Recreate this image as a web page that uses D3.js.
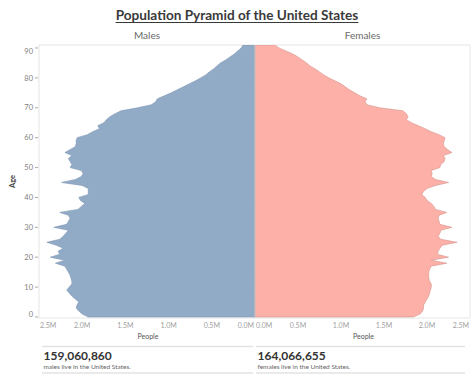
<!DOCTYPE html>
<html>
<head>
<meta charset="utf-8">
<script src="https://cdn.jsdelivr.net/npm/d3@7"></script>
<style>
  html, body { margin: 0; padding: 0; background: #fff; }
  svg text { font-family: Lato, "Open Sans", sans-serif; }
</style>
</head>
<body>
<svg id="chart" width="474" height="379"></svg>
<script>
// ---- data (values in millions of people, by single year of age) ----
const ages = d3.range(0, 92);
const males = [
  1.93, 2.00, 2.04, 2.07, 2.06, 2.04, 2.08, 2.12, 2.15, 2.18,
  2.15, 2.12, 2.12, 2.13, 2.14, 2.16, 2.18, 2.20, 2.31, 2.20,
  2.37, 2.26, 2.28, 2.22, 2.30, 2.41, 2.26, 2.22, 2.19, 2.16,
  2.33, 2.18, 2.16, 2.14, 2.16, 2.26, 2.05, 2.01, 1.97, 2.02,
  2.04, 1.93, 1.93, 1.93, 2.00, 2.24, 2.08, 2.01, 1.99, 2.01,
  2.14, 2.12, 2.14, 2.16, 2.12, 2.20, 2.14, 2.08, 2.07, 2.07,
  2.06, 1.94, 1.88, 1.80, 1.82, 1.75, 1.72, 1.68, 1.62, 1.55,
  1.36, 1.20, 1.15, 1.13, 1.05, 0.97, 0.90, 0.83, 0.76, 0.69,
  0.63, 0.57, 0.53, 0.48, 0.44, 0.40, 0.34, 0.29, 0.24, 0.20,
  0.16, 0.14
];
const females = [
  1.84, 1.92, 1.95, 1.96, 1.96, 1.98, 2.00, 2.02, 2.03, 2.04,
  2.05, 2.05, 2.03, 2.02, 2.02, 2.02, 2.03, 2.05, 2.23, 2.05,
  2.25, 2.12, 2.13, 2.15, 2.18, 2.35, 2.16, 2.13, 2.15, 2.16,
  2.29, 2.15, 2.14, 2.13, 2.14, 2.23, 2.10, 2.08, 2.05, 2.00,
  1.98, 1.94, 1.96, 2.00, 2.10, 2.25, 2.10, 2.05, 2.06, 2.05,
  2.15, 2.16, 2.20, 2.21, 2.19, 2.29, 2.24, 2.20, 2.19, 2.20,
  2.21, 2.14, 2.05, 1.98, 1.90, 1.82, 1.76, 1.78, 1.76, 1.72,
  1.45, 1.30, 1.28, 1.30, 1.22, 1.16, 1.10, 1.05, 1.00, 0.93,
  0.86, 0.80, 0.75, 0.70, 0.64, 0.60, 0.55, 0.50, 0.44, 0.36,
  0.28, 0.23
];
const xTicks = [0, 0.5, 1.0, 1.5, 2.0, 2.5];
const xTickLabels = ["0.0M", "0.5M", "1.0M", "1.5M", "2.0M", "2.5M"];
const yTicks = [0, 10, 20, 30, 40, 50, 60, 70, 80, 90];
const titleText = "Population Pyramid of the United States";
const panelTitles = ["Males", "Females"];
const totals = ["159,060,860", "164,066,655"];
const totalNotes = ["males live in the United States.", "females live in the United States."];

// ---- layout ----
const svg = d3.select("#chart");
const plotTop = 45, plotBottom = 318;
const leftX0 = 39, midX = 255, rightX1 = 470;

const y = d3.scaleLinear().domain([0, 91]).range([317, plotTop]);
const xL = d3.scaleLinear().domain([0, 2.5]).range([midX, leftX0]);
const xR = d3.scaleLinear().domain([0, 2.5]).range([midX, rightX1]);

// title
const title = svg.append("text")
  .attr("x", 237).attr("y", 20)
  .attr("text-anchor", "middle")
  .attr("font-size", 13.6).attr("font-weight", "bold")
  .attr("fill", "#3a3a3a")
  .text(titleText);
const tb = title.node().getBBox();
svg.append("line")
  .attr("x1", tb.x).attr("x2", tb.x + tb.width)
  .attr("y1", 22.5).attr("y2", 22.5)
  .attr("stroke", "#3a3a3a").attr("stroke-width", 1);

// panel titles
svg.append("text").attr("x", (leftX0 + midX) / 2).attr("y", 39)
  .attr("text-anchor", "middle").attr("font-size", 10).attr("fill", "#6a6a6a")
  .text(panelTitles[0]);
svg.append("text").attr("x", (midX + rightX1) / 2).attr("y", 39)
  .attr("text-anchor", "middle").attr("font-size", 10).attr("fill", "#6a6a6a")
  .text(panelTitles[1]);

// frame
svg.append("rect")
  .attr("x", leftX0).attr("y", plotTop)
  .attr("width", rightX1 - leftX0).attr("height", plotBottom - plotTop)
  .attr("fill", "none").attr("stroke", "#e6e6e6");

// clip
svg.append("clipPath").attr("id", "plotclip")
  .append("rect").attr("x", leftX0).attr("y", plotTop)
  .attr("width", rightX1 - leftX0).attr("height", plotBottom - plotTop);

const data = ages.map((a, i) => ({ age: a, m: males[i], f: females[i] }));

const areaM = d3.area()
  .y(d => y(d.age))
  .x0(xL(0))
  .x1(d => xL(d.m));
const areaF = d3.area()
  .y(d => y(d.age))
  .x0(xR(0))
  .x1(d => xR(d.f));

const g = svg.append("g").attr("clip-path", "url(#plotclip)");
g.append("path").datum(data).attr("d", areaM)
  .attr("fill", "#91abc7").attr("stroke", "#7f97b3").attr("stroke-width", 0.6);
g.append("path").datum(data).attr("d", areaF)
  .attr("fill", "#fdb0a8").attr("stroke", "#d4948d").attr("stroke-width", 0.6);
g.append("line").attr("x1", midX).attr("x2", midX).attr("y1", plotTop).attr("y2", plotBottom)
  .attr("stroke", "#c9c9c9").attr("stroke-width", 1);

// y axis
const yAxis = svg.append("g");
yTicks.forEach(t => {
  let yy = y(t);
  let ly = yy;
  if (t === 0) ly = yy - 3;
  if (t === 90) ly = yy + 3;
  yAxis.append("line").attr("x1", leftX0 - 4).attr("x2", leftX0 - 1)
    .attr("y1", yy).attr("y2", yy).attr("stroke", "#aaa");
  yAxis.append("text").attr("x", leftX0 - 6).attr("y", ly).attr("dy", "0.35em")
    .attr("text-anchor", "end").attr("font-size", 7.5).attr("fill", "#808080").text(t);
});
svg.append("text")
  .attr("transform", "translate(15," + ((plotTop + plotBottom) / 2) + ") rotate(-90)")
  .attr("text-anchor", "middle").attr("font-size", 7.5).attr("font-weight", "bold")
  .attr("fill", "#444").text("Age");

// x axes
xTicks.forEach((t, i) => {
  let lx = xL(t), anchor = "middle";
  if (t === 0) { anchor = "end"; lx = midX - 1; }
  if (t === 2.5) { anchor = "start"; lx = leftX0 + 1; }
  svg.append("text").attr("x", lx).attr("y", 328).attr("text-anchor", anchor)
    .attr("font-size", 7).attr("fill", "#a0a0a0").text(xTickLabels[i]);
  let rx = xR(t), ranchor = "middle";
  if (t === 0) { ranchor = "start"; rx = midX + 1; }
  if (t === 2.5) { ranchor = "end"; rx = rightX1 - 1; }
  svg.append("text").attr("x", rx).attr("y", 328).attr("text-anchor", ranchor)
    .attr("font-size", 7).attr("fill", "#a0a0a0").text(xTickLabels[i]);
});
svg.append("text").attr("x", (leftX0 + midX) / 2 + 1).attr("y", 339)
  .attr("text-anchor", "middle").attr("font-size", 7).attr("fill", "#555").text("People");
svg.append("text").attr("x", (midX + rightX1) / 2 + 1).attr("y", 339)
  .attr("text-anchor", "middle").attr("font-size", 7).attr("fill", "#555").text("People");

// totals
const boxes = [[42, 253], [256, 465]];
boxes.forEach((b, i) => {
  svg.append("line").attr("x1", b[0]).attr("x2", b[1]).attr("y1", 346.5).attr("y2", 346.5)
    .attr("stroke", "#e3e3e3").attr("stroke-width", 1.5);
  svg.append("line").attr("x1", b[0]).attr("x2", b[1]).attr("y1", 373).attr("y2", 373)
    .attr("stroke", "#e3e3e3").attr("stroke-width", 1.5);
  svg.append("text").attr("x", b[0] + 1.5).attr("y", 360)
    .attr("font-size", 12).attr("font-weight", "bold").attr("fill", "#333").text(totals[i]);
  svg.append("text").attr("x", b[0] + 1.5).attr("y", 368.5)
    .attr("font-size", 6.5).attr("fill", "#666").text(totalNotes[i]);
});
</script>
</body>
</html>
